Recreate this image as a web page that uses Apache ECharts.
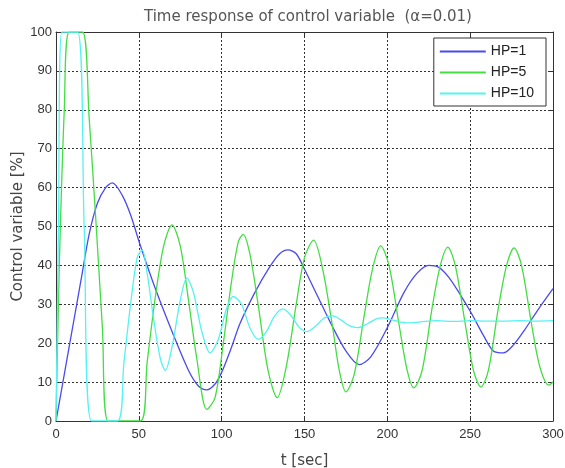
<!DOCTYPE html>
<html><head><meta charset="utf-8">
<script src="https://cdn.jsdelivr.net/npm/echarts@6/dist/echarts.min.js"></script>
<style>html,body{margin:0;padding:0;background:#fff}#c{width:565px;height:468px}</style>
</head><body><div id="c"></div>
<script>
const seriesNames = ['HP=1', 'HP=5', 'HP=10'];
const xTicks = [0, 50, 100, 150, 200, 250, 300];
const yTicks = [0, 10, 20, 30, 40, 50, 60, 70, 80, 90, 100];

const t1 = [0,5,10,15,20,25,30,34,40,45,51,60,71,80,86,91,96,100,106,111,120,129,135,140,145,150,158,166,175,183,190,200,210,218,225,231,237,244,251,258,264,270,276,283,290,300];
const v1 = [0,12,24,36,48,56,60,61.2,58,53,45,34,22,13,9,8,9.5,12.5,19,25,33,39.6,43,44,43,39,32,25,18,14.5,16.5,24,33,38,40,39.5,37,32.5,27.5,22,18,17.5,19.5,23.5,28,34];

const t5 = [0,2,5,8,16,20,24,28,31.5,51,55,60,65,70,75,80,85,91,96,101,106,110,113,117,122,128,133.5,139,145,150,155.5,161,167,171,175,180,186,191,196,201,207,212,216,221,227,232,236.5,241,247,252,256.5,261,267,272,276.5,281,287,292,297.5,300];
const v5 = [0,40,80,100,100,78,52,24,0,0,15,32,45,50.4,45,31,16,3,6,20,36,46,48,43,30,13,6,14,30,42,46.5,39,24,13,7.5,12,27,39,45,40,25,13,8.5,13,29,40,44.7,40,25,13,8.7,13,29,40,44.5,40,25,14,9.2,10];

const t10 = [0,1.5,3.5,13,17,21.5,37,41,45,49,52,55,59,63,66,70,75,79,83,88,93,98,103,107,112,117,122,127,132,137,142,147,151.6,157,162,167,172,177,182,188,193,197,203,208,212,220,230,240,250,260,270,280,290,300];
const v10 = [0,50,100,100,50,0,0,15,30,42,44,38,26,16,13,19,31,36.8,33,23,17.5,21,29,32,30,24,21,23,27,28.8,27,24,23,24.5,26.5,27,26,24.5,24,25,26.2,26.5,26,25.4,25.2,25.5,25.8,25.6,25.8,25.7,25.7,25.8,25.7,25.8];

const pair = (t, v) => t.map((x, i) => [x, v[i]]);
const colors = ['#4a4af0', '#44dd44', '#55f2f2'];
const font = 'Liberation Sans, Arial, sans-serif';
const font2 = 'DejaVu Sans, sans-serif';

const chart = echarts.init(document.getElementById('c'), null, {renderer: 'canvas'});
const gridLine = {show: true, lineStyle: {color: '#333', type: [2, 2], width: 1}};
const axLine = {show: true, onZero: false, lineStyle: {color: '#333', width: 1}};
const tick = {show: true, inside: true, length: 4, lineStyle: {color: '#333'}};
chart.setOption({
  animation: false,
  backgroundColor: '#fff',
  title: {text: 'Time response of control variable  (α=0.01)', left: 139, top: 5,
    textStyle: {fontFamily: font2, fontSize: 15, fontWeight: 'normal', color: '#555'}},
  grid: {left: 56, right: 12, top: 32, bottom: 47, outerBoundsMode: 'none', containLabel: false},
  legend: {data: seriesNames, orient: 'vertical', right: 19, top: 38, borderColor: '#333', borderWidth: 1,
    backgroundColor: '#fff', padding: [6, 12, 5, 6], itemWidth: 46, itemHeight: 2, itemGap: 6, icon: 'rect',
    textStyle: {fontFamily: font, fontSize: 14, color: '#222', lineHeight: 15}},
  xAxis: [
    {type: 'value', min: 0, max: 300, interval: 50, name: 't [sec]', nameLocation: 'middle', nameGap: 33,
     nameMoveOverlap: false,
     nameTextStyle: {fontFamily: font2, fontSize: 15, color: '#444'},
     axisLine: axLine, axisTick: tick, splitLine: gridLine,
     axisLabel: {fontFamily: font, fontSize: 13, color: '#333', margin: 7}},
    {type: 'value', position: 'top', min: 0, max: 300, interval: 50, axisLine: axLine, axisTick: tick,
     axisLabel: {show: false}, splitLine: {show: false}}
  ],
  yAxis: [
    {type: 'value', min: 0, max: 100, interval: 10, name: 'Control variable [%]', nameLocation: 'middle', nameGap: 30,
     nameMoveOverlap: false,
     nameTextStyle: {fontFamily: font2, fontSize: 15, color: '#444'},
     axisLine: axLine, axisTick: tick, splitLine: gridLine,
     axisLabel: {fontFamily: font, fontSize: 13, color: '#333', margin: 4}},
    {type: 'value', position: 'right', min: 0, max: 100, interval: 10, axisLine: axLine, axisTick: tick,
     axisLabel: {show: false}, splitLine: {show: false}}
  ],
  series: [
    {name: seriesNames[0], type: 'line', data: pair(t1, v1), smooth: 0.3, symbol: 'none', color: colors[0], lineStyle: {width: 1.3}},
    {name: seriesNames[1], type: 'line', data: pair(t5, v5), smooth: 0.3, symbol: 'none', color: colors[1], lineStyle: {width: 1.3}},
    {name: seriesNames[2], type: 'line', data: pair(t10, v10), smooth: 0.3, symbol: 'none', color: colors[2], lineStyle: {width: 1.3}}
  ]
});
</script></body></html>
